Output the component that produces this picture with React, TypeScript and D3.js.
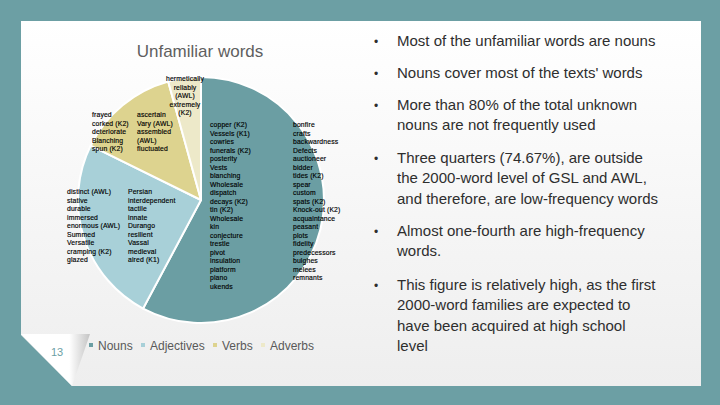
import * as d3 from 'd3';
import { useEffect } from 'react';

// slice shares (percent)
const categories = ['Nouns', 'Adjectives', 'Verbs', 'Adverbs'];
const shares = [57.8, 24.5, 13.4, 4.3];
const colors = ['#6B9EA3', '#A8D0D8', '#DDD38F', '#EDE9C9'];

// words printed inside each slice (two columns each, adverbs one)
const nounsCol1 = ['copper (K2)', 'Vessels (K1)', 'cowries', 'funerals  (K2)', 'posterity', 'Vests', 'blanching', 'Wholesale', 'dispatch', 'decays  (K2)', 'tin  (K2)', 'Wholesale', 'kin', 'conjecture', 'trestle', 'pivot', 'insulation', 'platform', 'piano', 'ukends'];
const nounsCol2 = ['bonfire', 'crafts', 'backwardness', 'Defects', 'auctioneer', 'bidder', 'tides (K2)', 'spear', 'custom', 'spats (K2)', 'Knock-out (K2)', 'acquaintance', 'peasant', 'plots', 'fidelity', 'predecessors', 'bulghes', 'melees', 'remnants'];
const adjCol1 = ['distinct (AWL)', 'stative', 'durable', 'immersed', 'enormous (AWL)', 'Summed', 'Versatile', 'cramping (K2)', 'glazed'];
const adjCol2 = ['Persian', 'interdependent', 'tactile', 'innate', 'Durango', 'resilient', 'Vassal', 'medieval', 'aired (K1)'];
const verbsCol1 = ['frayed', 'corked (K2)', 'deteriorate', 'Blanching', 'spun (K2)'];
const verbsCol2 = ['ascertain', 'Vary (AWL)', 'assembled', '(AWL)', 'fluctuated'];
const advCol = ['hermetically', 'reliably', '(AWL)', 'extremely', '(K2)'];

const bullets = [
  ['Most of the unfamiliar words are nouns'],
  ["Nouns cover most of the texts' words"],
  ['More than 80% of the total unknown', 'nouns are not frequently used'],
  ['Three quarters (74.67%), are outside', 'the 2000-word level of GSL and AWL,', 'and therefore, are low-frequency words'],
  ['Almost one-fourth are high-frequency', 'words.'],
  ['This figure is relatively high, as the first', '2000-word families are expected to', 'have been acquired at high school', 'level'],
];
const bulletTops = [46, 78, 110, 163, 236, 290];

export default function App() {
  useEffect(() => {
    document.body.style.margin = '0';
  }, []);

  const width = 720;
  const height = 405;
  const cx = 201;
  const cy = 200;
  const r = 123;

  const pie = d3.pie<number>().sort(null).value(d => d);
  const arcs = pie(shares);
  const arc = d3.arc<d3.PieArcDatum<number>>().innerRadius(0).outerRadius(r);

  // label blocks, offsets from the pie centre
  const blocks = [
    { lines: nounsCol1, dx: 9, dy: -73, anchor: 'start' },
    { lines: nounsCol2, dx: 92, dy: -73, anchor: 'start' },
    { lines: adjCol1, dx: -134, dy: -6, anchor: 'start' },
    { lines: adjCol2, dx: -73, dy: -6, anchor: 'start' },
    { lines: verbsCol1, dx: -109, dy: -83, anchor: 'start' },
    { lines: verbsCol2, dx: -64, dy: -83, anchor: 'start' },
    { lines: advCol, dx: -16, dy: -119, anchor: 'middle' },
  ];
  const lineH = 8.5;

  const legendOffsets = [0, 52, 124, 172];

  return (
    <div style={{ position: 'fixed', left: 0, top: 0 }}>
      <svg width={width} height={height} style={{ display: 'block' }}>
        <defs>
          <linearGradient id="panel" x1="0" y1="0" x2="0" y2="1">
            <stop offset="0" stopColor="#ffffff" />
            <stop offset="1" stopColor="#eeeeee" />
          </linearGradient>
          <linearGradient id="fold" x1="0" y1="0" x2="1" y2="0">
            <stop offset="0" stopColor="#ffffff" />
            <stop offset="0.7" stopColor="#ffffff" />
            <stop offset="1" stopColor="#c4c4c4" />
          </linearGradient>
        </defs>
        <rect width={width} height={height} fill="#6C9FA4" />
        <polygon points="21,21 701,21 701,386 72,386 21,335" fill="url(#panel)" />
        <polygon points="21,334 90,334 72,386" fill="url(#fold)" />
        <text x={57} y={356} textAnchor="middle" fontFamily="Arial, 'Liberation Sans'" fontSize={11} fill="#6C9FA4">13</text>

        <text x={200} y={57} textAnchor="middle" fontFamily="Arial, 'Liberation Sans'" fontSize={17} fill="#5f5f5f">Unfamiliar words</text>

        <g transform={`translate(${cx},${cy})`}>
          {arcs.map((a, i) => (
            <path key={categories[i]} d={arc(a) ?? ''} fill={colors[i]} stroke="#ffffff" strokeWidth={2} strokeLinejoin="round" />
          ))}
          {blocks.map((b, bi) => (
            <text key={bi} fontFamily="Arial, 'Liberation Sans'" fontSize={6.8} fill="#000" stroke="#000" strokeWidth={0.15} letterSpacing={0.15} textAnchor={b.anchor}>
              {b.lines.map((l, li) => (
                <tspan key={li} x={b.dx} y={b.dy + li * lineH}>{l}</tspan>
              ))}
            </text>
          ))}
        </g>

        <g transform="translate(91,350)" fontFamily="Arial, 'Liberation Sans'" fontSize={12} fill="#595959">
          {categories.map((c, i) => (
            <g key={c} transform={`translate(${legendOffsets[i]},0)`}>
              <rect x={-2} y={-7} width={4} height={4} fill={colors[i]} />
              <text x={7} y={0}>{c}</text>
            </g>
          ))}
        </g>

        <g fontFamily="Arial, 'Liberation Sans'" fontSize={15} fill="#2e2e2e">
          {bullets.map((b, i) => (
            <g key={i}>
              <text x={374} y={bulletTops[i]} fontSize={12}>•</text>
              {b.map((l, li) => (
                <text key={li} x={397} y={bulletTops[i] + li * 20.3}>{l}</text>
              ))}
            </g>
          ))}
        </g>
      </svg>
    </div>
  );
}
